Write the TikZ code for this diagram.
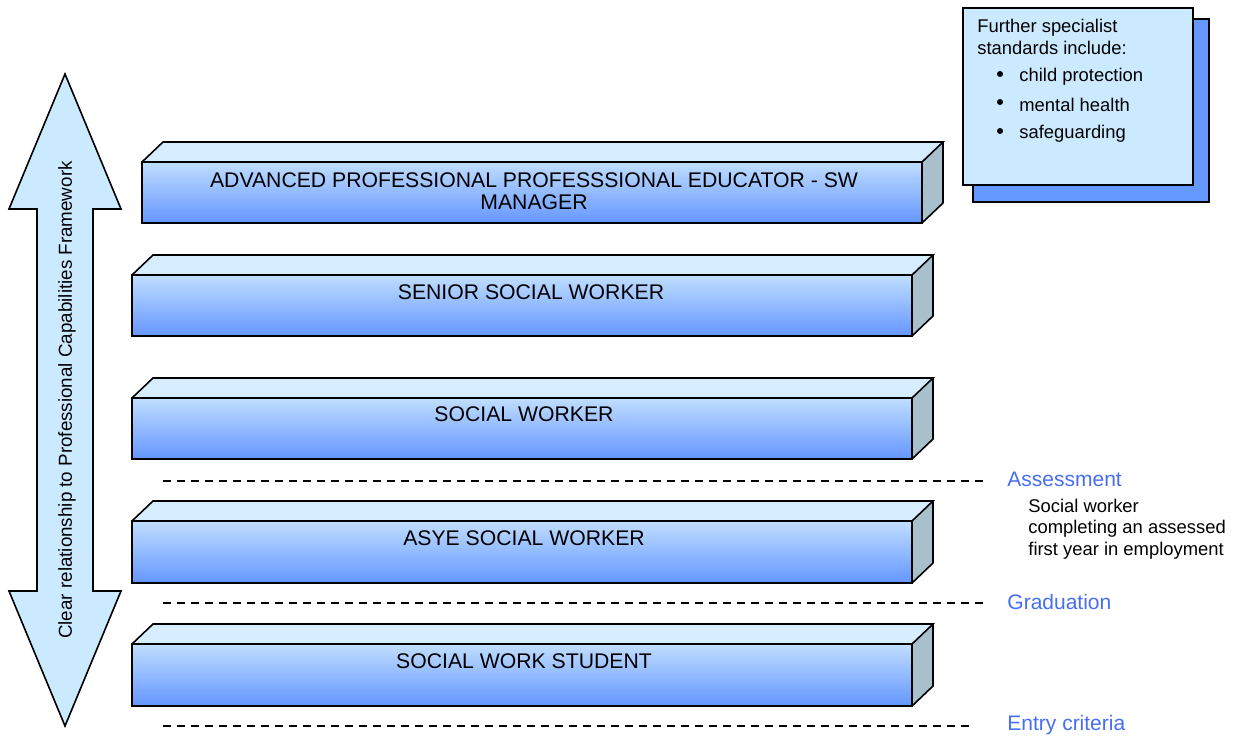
\documentclass[tikz,border=0pt]{standalone}
\usepackage{fontspec}
\setmainfont{Liberation Sans}
\begin{document}
\begin{tikzpicture}[x=0.5pt,y=-0.5pt,
  edge/.style={draw=black,line width=0.8pt,line join=miter},
  slabtext/.style={font=\fontsize{10.6pt}{11.2pt}\selectfont,align=center,inner sep=0pt,anchor=center},
  stage/.style={font=\fontsize{10.5pt}{12pt}\selectfont,text=stagecol,anchor=west,inner sep=0pt},
  note/.style={font=\fontsize{9.2pt}{10.8pt}\selectfont,anchor=west,align=left,inner sep=0pt},
  sep/.style={draw=black,line width=0.6pt,dash pattern=on 3.8pt off 3.2pt}]
\definecolor{stagecol}{RGB}{70,110,240}
\definecolor{facetop}{RGB}{214,236,255}
\definecolor{frontA}{RGB}{192,222,255}
\definecolor{frontB}{RGB}{100,150,255}
\definecolor{sidecol}{RGB}{168,192,204}
\definecolor{pale}{RGB}{204,234,255}
\definecolor{shadowcol}{RGB}{102,153,255}
\useasboundingbox (0,0) rectangle (1240,738);

% slabs: left x, right x, top y, bottom y, name
\newcommand{\slab}[5]{%
  \fill[facetop] (#1,#3) -- ++(21,-20) -- ++(#2-#1,0) -- (#2,#3) -- cycle;
  \fill[sidecol] (#2,#3) -- ++(21,-20) -- ++(0,#4-#3) -- (#2,#4) -- cycle;
  \shade[top color=frontA,bottom color=frontB] (#1,#3) rectangle (#2,#4);
  \draw[edge] (#1,#3) rectangle (#2,#4);
  \draw[edge] (#1,#3) -- ++(21,-20) -- ++(#2-#1,0) -- (#2,#3);
  \draw[edge] (#2+21,#3-20) -- (#2+21,#4-20) -- (#2,#4);
  \coordinate (#5) at ({(#1+#2)/2},{(#3+#4)/2});
}
\slab{142}{922}{162}{223}{advanced}
\slab{132}{912}{275}{336}{senior}
\slab{132}{912}{398}{459}{sw}
\slab{132}{912}{521}{583}{asye}
\slab{132}{912}{644}{706}{student}
\node[slabtext] (tAdvanced) at (534,191) {ADVANCED PROFESSIONAL PROFESSSIONAL EDUCATOR - SW\\MANAGER};
\node[slabtext] (tSenior) at (531,292) {SENIOR SOCIAL WORKER};
\node[slabtext] (tSW) at (524,414) {SOCIAL WORKER};
\node[slabtext] (tASYE) at (524,538) {ASYE SOCIAL WORKER};
\node[slabtext] (tStudent) at (524,661) {SOCIAL WORK STUDENT};

% double arrow
\draw[edge,fill=pale] (65,74) -- (121,209) -- (93,209) -- (93,591) -- (121,591) -- (65,726)
  -- (9,591) -- (37,591) -- (37,209) -- (9,209) -- cycle;
\node[font=\fontsize{9.4pt}{10pt}\selectfont,rotate=90,inner sep=0pt] (arrowtext) at (67,400)
  {Clear relationship to Professional Capabilities Framework};

% separators
\coordinate (a1) at (163,481); \coordinate (a2) at (985,481);
\coordinate (g1) at (163,603); \coordinate (g2) at (983,603);
\coordinate (e1) at (163,726); \coordinate (e2) at (969,726);
\draw[sep] (a1) -- (a2);
\draw[sep] (g1) -- (g2);
\draw[sep] (e1) -- (e2);
\node[stage] (assess) at (1007,479) {Assessment};
\node[stage] (grad) at (1007,602) {Graduation};
\node[stage] (entry) at (1007,725) {Entry criteria};
\node[note] (asyeNote) at (1028,529) {Social worker\\completing an assessed\\first year in employment};

% specialist box
\draw[edge,fill=shadowcol] (973,19) rectangle (1209,202);
\draw[edge,fill=pale] (963,8) rectangle (1193,185);
\node[note] (spec) at (977,37) {Further specialist\\standards include:};
\foreach \t/\yy [count=\i] in {child protection/77,mental health/105,safeguarding/134}{
  \fill (1000,\yy-3) circle (3);
  \node[note] (b\i) at (1019,\yy) {\t};
}
\end{tikzpicture}
\end{document}
